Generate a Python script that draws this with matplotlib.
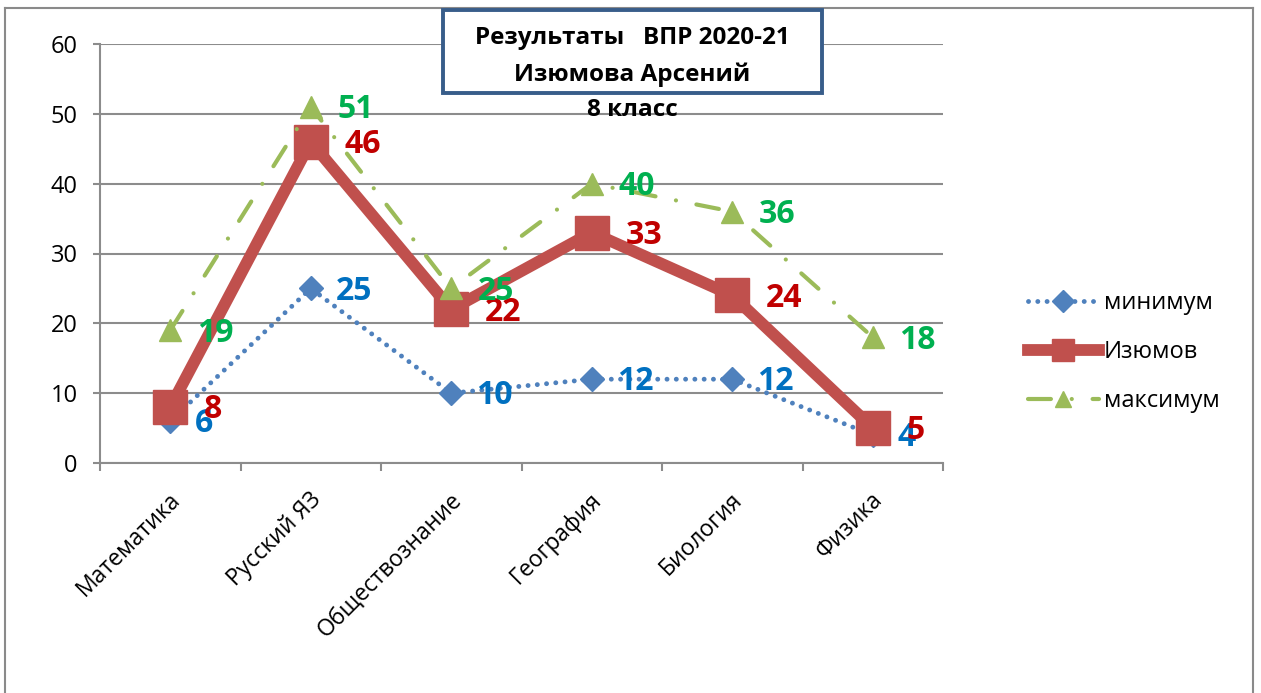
import matplotlib
matplotlib.use("Agg")
import matplotlib.pyplot as plt
from matplotlib.lines import Line2D
from matplotlib.patches import Rectangle
from matplotlib.transforms import offset_copy

plt.rcParams['font.family'] = ['Open Sans', 'DejaVu Sans']

categories = ["Математика", "Русский ЯЗ", "Обществознание", "География", "Биология", "Физика"]
minimum = [6, 25, 10, 12, 12, 4]
izyumov = [8, 46, 22, 33, 24, 5]
maximum = [19, 51, 25, 40, 36, 18]
series_names = ["минимум", "Изюмов", "максимум"]
yticks = [0, 10, 20, 30, 40, 50, 60]
title_lines = ["Результаты   ВПР 2020-21", "Изюмова Арсений", "8 класс"]

W, H = 1261, 693
fig = plt.figure(figsize=(W / 100, H / 100), dpi=100)
fig.patch.set_facecolor("white")

# outer chart frame
frame_col = "#8a8a8a"
fig.add_artist(Line2D([5 / W, 5 / W], [0, 1 - 8 / H], transform=fig.transFigure, color=frame_col, lw=1.5))
fig.add_artist(Line2D([5 / W, 1253 / W], [1 - 8 / H, 1 - 8 / H], transform=fig.transFigure, color=frame_col, lw=1.5))
fig.add_artist(Line2D([1253 / W, 1253 / W], [0, 1 - 8 / H], transform=fig.transFigure, color=frame_col, lw=1.5))

left, right, top, bottom = 100, 943, 44, 463
ax = fig.add_axes([left / W, 1 - bottom / H, (right - left) / W, (bottom - top) / H])
x = list(range(len(categories)))
ax.set_xlim(-0.5, len(categories) - 0.5)
ax.set_ylim(0, 60)

grid_col = "#8c8c8c"
ax.set_yticks(yticks)
ax.yaxis.grid(True, color=grid_col, lw=1.5)
ax.set_axisbelow(True)
for s in ["top", "right"]:
    ax.spines[s].set_visible(False)
for s in ["left", "bottom"]:
    ax.spines[s].set_color(grid_col)
    ax.spines[s].set_linewidth(1.5)
ax.tick_params(axis="y", direction="out", length=5, width=1.5, color=grid_col, labelsize=17, pad=11)
ax.set_xticks([i - 0.5 for i in range(len(categories) + 1)])
ax.set_xticklabels([])
ax.tick_params(axis="x", direction="out", length=6, width=1.5, color=grid_col)

blue, red, green = "#4F81BD", "#C0504D", "#9BBB59"
lblue, lred, lgreen = "#0070C0", "#C00000", "#00B050"

l1, = ax.plot(x, minimum, color=blue, lw=3.5, dashes=(0.01, 1.9), dash_capstyle="round",
              marker="D", ms=12, mec=blue, mfc=blue, label=series_names[0], zorder=3)
l2, = ax.plot(x, izyumov, color=red, lw=8.5, solid_joinstyle="miter",
              marker="s", ms=25, mec=red, mfc=red, label=series_names[1], zorder=4)
l3, = ax.plot(x, maximum, color=green, lw=3, dashes=(5.5, 5, 0.01, 5), dash_capstyle="round",
              marker="^", ms=16, mec=green, mfc=green, label=series_names[2], zorder=5)

def labels(vals, col, dx_pt):
    tr = offset_copy(ax.transData, fig=fig, x=dx_pt, y=-2, units="points")
    for xi, v in zip(x, vals):
        ax.text(xi, v, str(v), transform=tr, color=col, fontsize=23, fontweight="bold",
                ha="left", va="center", zorder=10)

labels(minimum, lblue, 18)
labels(izyumov, lred, 24.5)
labels(maximum, lgreen, 19)

# category labels
trc = offset_copy(ax.get_xaxis_transform(), fig=fig, x=5, y=-24, units="points")
for xi, c in zip(x, categories):
    ax.text(xi, 0, c, transform=trc, rotation=45, rotation_mode="anchor",
            ha="right", va="center", fontsize=16.5)

# title box
fig.add_artist(Rectangle((443 / W, 1 - 93 / H), (822 - 443) / W, (93 - 10) / H,
                         transform=fig.transFigure, fill=True, facecolor="white",
                         edgecolor="#385D8A", lw=2.8, zorder=20))
for yy, t in zip([38, 75, 110], title_lines):
    fig.text(632 / W, 1 - yy / H, t, ha="center", va="center", fontsize=17.5,
             fontweight="bold", zorder=21)

leg = fig.legend(handles=[l1, l2, l3], loc="center left",
                 bbox_to_anchor=(1028 / W, 1 - 352 / H), frameon=False, fontsize=17,
                 handlelength=3.0, handletextpad=0.2, labelspacing=1.05, numpoints=1,
                 borderaxespad=0, borderpad=0)
for h in leg.legend_handles:
    if h.get_label() == series_names[1]:
        h.set_markersize(16)
    else:
        h.set_markersize(11)

fig.savefig("out.png", dpi=100)
